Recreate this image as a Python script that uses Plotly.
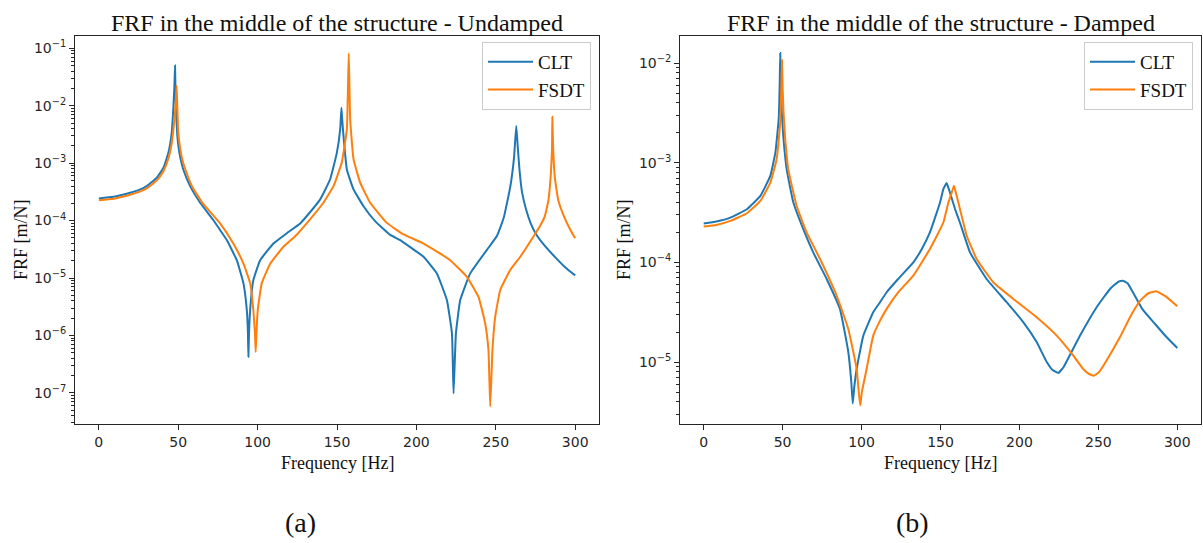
import numpy as np
import plotly.graph_objects as go

# ---- FRF at the middle of the plate, stored as log10(|H| / (m/N)) ----
# Undamped, CLT
freq_clt_undamped = [0, 9.2, 19.7, 25, 30.2, 36.5, 40.7, 43.8, 45.9, 46.9,
                     47.6, 48.0, 48.3, 48.8, 49.4, 50.1, 51.5, 53.2, 57.5, 63.8,
                     72.1, 76.5, 80.6, 86.9, 91.1, 93.2, 93.9, 94.2, 94.6, 95.3,
                     97.3, 101.6, 110, 118.4, 126.8, 131, 139.4, 145.7, 149.9, 152,
                     152.8, 153.3, 154.1, 156.2, 160.4, 166.7, 174, 183.5, 189.8, 197,
                     204.5, 212.9, 219.2, 222.4, 223.4, 224.9, 227.6, 233.9, 244.4, 250.7,
                     255, 259.2, 261.5, 262.9, 263.8, 264.9, 266.5, 269, 272, 275,
                     280, 287.5, 294, 300]
log_clt_undamped = [-3.613, -3.585, -3.515, -3.47, -3.40, -3.254, -3.08, -2.82, -2.47, -2.06,
                    -1.66, -1.30, -1.75, -2.2, -2.5, -2.70, -2.93, -3.11, -3.40, -3.69,
                    -3.99, -4.17, -4.34, -4.69, -5.094, -5.56, -5.95, -6.373, -5.95, -5.56,
                    -5.04, -4.69, -4.40, -4.22, -4.05, -3.92, -3.63, -3.28, -2.82, -2.41,
                    -2.035, -2.25, -2.53, -3.11, -3.456, -3.75, -4.01, -4.25, -4.34, -4.48,
                    -4.63, -4.92, -5.385, -5.965, -7.01, -5.965, -5.385, -4.92, -4.51, -4.27,
                    -3.95, -3.40, -2.9, -2.354, -2.7, -3.11, -3.5, -3.8, -4.05, -4.22,
                    -4.41, -4.64, -4.82, -4.954]

# Undamped, FSDT
freq_fsdt_undamped = [0, 9.2, 19.7, 25, 30.2, 36.5, 40.7, 43.8, 45.9, 47.2,
                      48.3, 49.0, 49.4, 50.0, 51, 52.5, 54.5, 59, 65.5, 76.4,
                      84.7, 91.1, 95.3, 97.3, 98.3, 98.8, 99.3, 100.1, 102.6, 107.9,
                      116.3, 124.5, 133, 141.4, 147.8, 153, 156.2, 157.4, 158.3, 160.4,
                      164.6, 170.9, 181.4, 191.9, 204.5, 213, 221.3, 231.8, 239.1, 243.3,
                      245.4, 246.5, 247.9, 249.6, 252.8, 259.1, 265.4, 268.8, 274.8, 277.3,
                      280.8, 283.2, 284.7, 285.4, 285.6, 286.1, 287.1, 289.3, 293, 297,
                      300]
log_fsdt_undamped = [-3.646, -3.62, -3.55, -3.505, -3.44, -3.30, -3.14, -2.92, -2.65, -2.35,
                     -2.0, -1.645, -2.0, -2.45, -2.7, -2.93, -3.11, -3.42, -3.70, -4.05,
                     -4.40, -4.75, -5.094, -5.56, -5.95, -6.29, -5.95, -5.56, -5.094, -4.75,
                     -4.456, -4.25, -3.98, -3.69, -3.40, -2.99, -2.41, -1.087, -2.24, -2.93,
                     -3.34, -3.69, -4.04, -4.24, -4.40, -4.54, -4.69, -4.98, -5.33, -5.79,
                     -6.26, -7.24, -6.26, -5.68, -5.21, -4.86, -4.63, -4.49, -4.23, -4.12,
                     -3.93, -3.64, -3.176, -2.77, -2.19, -2.71, -3.23, -3.64, -3.93, -4.163,
                     -4.308]

# Damped, CLT
freq_clt_damped = [0, 8, 16.9, 27.4, 35.9, 42.2, 45.4, 47.5, 48.1, 48.5,
                   48.9, 49.5, 50.4, 52.6, 56.8, 63.1, 69.4, 77.9, 86.3, 91.6,
                   93.5, 94.4, 95.4, 96.9, 101.1, 107.4, 111.7, 115.9, 123, 132.8,
                   138, 143.3, 149.7, 151.8, 153.9, 156, 159.2, 162.3, 168.7, 179.2,
                   191.9, 202.4, 210.9, 217.3, 221, 224.6, 228, 232, 238.4, 248.9,
                   257.4, 262.6, 265.5, 268.5, 271.5, 278.1, 285.4, 292.7, 300]
log_clt_damped = [-3.611, -3.59, -3.551, -3.467, -3.334, -3.133, -2.90, -2.565, -2.25, -1.90,
                  -2.2, -2.5, -2.73, -3.07, -3.40, -3.667, -3.90, -4.167, -4.467, -4.90,
                  -5.2, -5.417, -5.25, -5.07, -4.735, -4.50, -4.40, -4.30, -4.17, -4.0,
                  -3.87, -3.70, -3.40, -3.266, -3.205, -3.30, -3.465, -3.60, -3.90, -4.167,
                  -4.40, -4.60, -4.80, -5.0, -5.08, -5.11, -5.05, -4.93, -4.735, -4.45,
                  -4.267, -4.195, -4.184, -4.21, -4.29, -4.475, -4.609, -4.742, -4.86]

# Damped, FSDT
freq_fsdt_damped = [0, 8, 16.9, 27.4, 35.9, 42.2, 46.2, 48.3, 49.1, 49.6,
                    50.0, 50.6, 51.5, 53.6, 58.9, 65.2, 73.7, 84.2, 91.6, 96.9,
                    98.4, 99.2, 100.2, 103.2, 107.4, 111.7, 115.9, 123.3, 132.8, 143.3,
                    151.8, 155, 157.1, 158.5, 160.2, 162.3, 166.6, 172.9, 183.4, 196.1,
                    210.9, 223.6, 234.1, 240.4, 244, 247.2, 250.5, 255, 263.7, 270.7,
                    276.8, 281.7, 286.6, 292.7, 300]
log_fsdt_damped = [-3.641, -3.625, -3.584, -3.507, -3.384, -3.20, -2.966, -2.632, -2.3, -1.973,
                   -2.25, -2.5, -2.73, -3.07, -3.434, -3.70, -3.967, -4.334, -4.668, -5.07,
                   -5.33, -5.436, -5.3, -5.07, -4.735, -4.585, -4.467, -4.30, -4.133, -3.866,
                   -3.60, -3.40, -3.30, -3.231, -3.33, -3.465, -3.733, -3.966, -4.20, -4.367,
                   -4.551, -4.735, -4.935, -5.07, -5.12, -5.137, -5.10, -4.99, -4.75, -4.53,
                   -4.38, -4.31, -4.291, -4.341, -4.441]

series_names = ["CLT", "FSDT"]
x_ticks = [0, 50, 100, 150, 200, 250, 300]
y_decades_undamped = [-7, -6, -5, -4, -3, -2, -1]
y_decades_damped = [-5, -4, -3, -2]

BLUE = "#1f77b4"
ORANGE = "#ff7f0e"
W, H = 1203, 543
SERIF = "Liberation Serif, Times New Roman, serif"
SANS = "DejaVu Sans, sans-serif"
INK = "#262626"


def px(xp):
    return xp / W


def py(yp):
    return 1 - yp / H


def decade_ticks(exps):
    vals = [10.0 ** e for e in exps]
    text = ["10<sup>\u2212%d</sup>" % (-e) for e in exps]
    return vals, text


def minor_log_ticks(lo_exp, hi_exp):
    return [m * 10.0 ** e for e in range(lo_exp, hi_exp) for m in range(2, 10)]


fig = go.Figure()

panels = [
    ("x", "y", "legend", [(freq_clt_undamped, log_clt_undamped), (freq_fsdt_undamped, log_fsdt_undamped)]),
    ("x2", "y2", "legend2", [(freq_clt_damped, log_clt_damped), (freq_fsdt_damped, log_fsdt_damped)]),
]
for xa, ya, leg, curves in panels:
    for (f, lg), name, col in zip(curves, series_names, [BLUE, ORANGE]):
        fig.add_trace(go.Scatter(
            x=f, y=np.power(10.0, lg), mode="lines", name=name,
            line=dict(color=col, width=2, shape="spline", smoothing=0.35),
            xaxis=xa, yaxis=ya, legend=leg,
        ))

axis_common = dict(
    showline=True, linecolor=INK, linewidth=1, mirror=True,
    ticks="outside", ticklen=5, tickwidth=1, tickcolor=INK,
    showgrid=False, zeroline=False,
    tickfont=dict(family=SANS, size=14, color=INK),
)
x_common = dict(axis_common, range=[-15, 315], tickmode="array", tickvals=x_ticks,
                ticktext=[str(t) for t in x_ticks])
minor_style = dict(ticks="outside", ticklen=3, tickwidth=1, tickcolor=INK, showgrid=False)

tv1, tt1 = decade_ticks(y_decades_undamped)
tv2, tt2 = decade_ticks(y_decades_damped)

y_dom = [py(424), py(36)]
fig.update_layout(
    width=W, height=H, margin=dict(l=0, r=0, t=0, b=0),
    paper_bgcolor="white", plot_bgcolor="white",
    showlegend=True,
    xaxis=dict(x_common, domain=[px(75), px(599)], anchor="y"),
    yaxis=dict(axis_common, type="log", domain=y_dom, anchor="x", range=[-7.543, -0.785],
               tickmode="array", tickvals=tv1, ticktext=tt1,
               minor=dict(minor_style, tickmode="array", tickvals=minor_log_ticks(-8, 0))),
    xaxis2=dict(x_common, domain=[px(680), px(1201)], anchor="y2"),
    yaxis2=dict(axis_common, type="log", domain=y_dom, anchor="x2", range=[-5.622, -1.729],
                tickmode="array", tickvals=tv2, ticktext=tt2,
                minor=dict(minor_style, tickmode="array", tickvals=minor_log_ticks(-6, -1))),
)

legend_style = dict(
    xanchor="right", yanchor="top", bgcolor="rgba(255,255,255,0.8)",
    bordercolor="#cccccc", borderwidth=1, font=dict(family=SERIF, size=19, color="#111"),
    itemwidth=45, tracegroupgap=0,
)
fig.update_layout(
    legend=dict(legend_style, x=px(591), y=py(42)),
    legend2=dict(legend_style, x=px(1193), y=py(42)),
)

# titles, axis labels and panel captions
texts = [
    ("FRF in the middle of the structure - Undamped", (75 + 599) / 2, 23, 24, 0),
    ("FRF in the middle of the structure - Damped", (680 + 1201) / 2, 23, 24, 0),
    ("Frequency [Hz]", (75 + 599) / 2, 463, 18, 0),
    ("Frequency [Hz]", (680 + 1201) / 2, 463, 18, 0),
    ("FRF [m/N]", 21, 240, 18, -90),
    ("FRF [m/N]", 624, 240, 18, -90),
    ("(a)", 300, 522, 28, 0),
    ("(b)", 912, 522, 28, 0),
]
for txt, xp, yp, size, ang in texts:
    fig.add_annotation(text=txt, x=px(xp), y=py(yp), xref="paper", yref="paper",
                       xanchor="center", yanchor="middle", showarrow=False, textangle=ang,
                       font=dict(family=SERIF, size=size, color="#111"))

fig.write_html("out.html")
